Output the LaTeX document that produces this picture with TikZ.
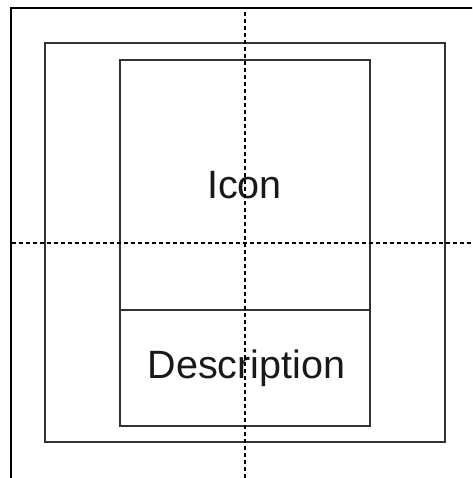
\documentclass[tikz,border=0pt]{standalone}
\usepackage{fontspec}
\setmainfont{Liberation Sans}
\begin{document}
\begin{tikzpicture}[x=1pt,y=-1pt,
  frame/.style={draw=black,line width=2pt},
  boxline/.style={draw=black!80,line width=1.4pt,inner sep=0pt,outer sep=0pt},
  guide/.style={draw=black,line width=1.4pt,dash pattern=on 4pt off 3pt},
  lbl/.style={font=\fontsize{39.5}{46}\selectfont,text=black!90}]
\useasboundingbox (0,0) rectangle (472,478);
\fill[white] (0,0) rectangle (472,478);
\begin{scope}
\clip (0,0) rectangle (472,478);
\draw[frame] (10.5,8.5) rectangle (490,495);
\end{scope}
\node[boxline,rectangle,minimum width=400pt,minimum height=399pt] (outer) at (245,242.5) {};
\node[boxline,rectangle,minimum width=250pt,minimum height=250pt] (icon) at (245,185) {};
\node[boxline,rectangle,minimum width=250pt,minimum height=116pt,anchor=north] (desc) at (icon.south) {};
\node[lbl] (icontext) at (244.5,185.5) {Icon};
\node[lbl] (desctext) at (246.5,368) {Description};
\coordinate (vtop) at (245,12);
\coordinate (vbot) at (245,478);
\coordinate (hl) at (11.5,243);
\coordinate (hr) at (472,243);
\draw[guide] (vtop) -- (vbot);
\draw[guide] (hl) -- (hr);
\end{tikzpicture}
\end{document}
